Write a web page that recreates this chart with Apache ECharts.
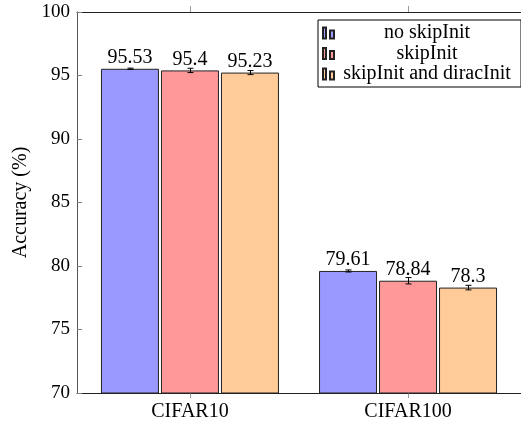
<!DOCTYPE html>
<html>
<head>
<meta charset="utf-8">
<script src="https://cdn.jsdelivr.net/npm/echarts@6/dist/echarts.min.js"></script>
<style>html,body{margin:0;padding:0;background:#fff}#c{width:521px;height:424px}</style>
</head>
<body>
<div id="c"></div>
<script>
const categories = ['CIFAR10', 'CIFAR100'];
const seriesNames = ['no skipInit', 'skipInit', 'skipInit and diracInit'];
const noSkipInit = [95.53, 79.61];
const noSkipInitErr = [0.05, 0.08];
const skipInit = [95.4, 78.84];
const skipInitErr = [0.17, 0.25];
const skipInitDirac = [95.23, 78.3];
const skipInitDiracErr = [0.16, 0.18];
const yTicks = [70, 75, 80, 85, 90, 95, 100];

const FONT = 'Liberation Serif';
const colors = ['#9999ff', '#ff9999', '#ffcc99'];
const values = [noSkipInit, skipInit, skipInitDirac];
const errs = [noSkipInitErr, skipInitErr, skipInitDiracErr];
const BAR_W = 58, BAR_PITCH = 60;

const serifRich = size => ({s: {fontFamily: FONT, fontSize: size, color: '#000'}});

const chart = echarts.init(document.getElementById('c'), null, {renderer: 'canvas'});

const barSeries = seriesNames.map((name, si) => ({
  name: name,
  type: 'bar',
  xAxisIndex: 0,
  barWidth: BAR_W,
  barGap: ((BAR_PITCH - BAR_W) / BAR_W * 100).toFixed(2) + '%',
  data: categories.map((c, ci) => [ci, values[si][ci]]),
  itemStyle: {color: colors[si], borderColor: '#222', borderWidth: 1},
  label: {
    show: true, position: 'top', distance: 1,
    fontFamily: FONT, fontSize: 20, color: '#000',
    formatter: p => '{s|' + String(p.value[1]) + '}',
    rich: serifRich(20)
  },
  z: 2
}));

const errData = [];
seriesNames.forEach((n, si) => categories.forEach((c, ci) => errData.push([ci, values[si][ci], errs[si][ci], si])));

const errSeries = {
  type: 'custom',
  xAxisIndex: 0,
  z: 5,
  silent: true,
  data: errData,
  renderItem: function (params, api) {
    const x = api.value(0), v = api.value(1), e = api.value(2), si = api.value(3);
    const off = (si - 1) * BAR_PITCH;
    const top = api.coord([x, v + e]);
    const bot = api.coord([x, v - e]);
    const cx = Math.round(top[0] + off) + 0.5;
    const cap = 3;
    const st = {stroke: '#000', lineWidth: 1};
    return {
      type: 'group',
      children: [
        {type: 'line', shape: {x1: cx, y1: top[1], x2: cx, y2: bot[1]}, style: st},
        {type: 'line', shape: {x1: cx - cap, y1: top[1], x2: cx + cap, y2: top[1]}, style: st},
        {type: 'line', shape: {x1: cx - cap, y1: bot[1], x2: cx + cap, y2: bot[1]}, style: st}
      ]
    };
  }
};

const option = {
  animation: false,
  backgroundColor: '#fff',
  textStyle: {fontFamily: FONT},
  grid: {left: 77, top: 12, width: 452, height: 381, containLabel: false},
  legend: {
    orient: 'vertical',
    left: 318, top: 20,
    padding: [3, 6, 3, 4],
    backgroundColor: '#fff',
    borderColor: '#000', borderWidth: 1, borderRadius: 0,
    itemWidth: 11, itemHeight: 11, itemGap: 0.5,
    icon: 'path://M0,0L3,0L3,11L0,11Z M7,3L11,3L11,11L7,11Z',
    data: seriesNames,
    formatter: name => '{t|' + name + '}',
    textStyle: {
      fontFamily: FONT, fontSize: 20, color: '#000',
      rich: {t: {width: 176, align: 'center', fontFamily: FONT, fontSize: 20, lineHeight: 21, color: '#000'}}
    }
  },
  xAxis: [{
    type: 'value', position: 'bottom',
    min: -0.518, max: 1.518,
    splitLine: {show: false},
    axisLine: {show: true, onZero: false, lineStyle: {color: '#222', width: 1}},
    axisTick: {show: true, customValues: [0, 1], length: 5, lineStyle: {color: '#999'}},
    axisLabel: {
      show: true, customValues: [0, 1], margin: 9,
      fontFamily: FONT, fontSize: 20, color: '#000',
      formatter: v => '{s|' + (categories[Math.round(v)] || '') + '}',
      rich: serifRich(20)
    }
  }, {
    type: 'value', position: 'top',
    min: -0.518, max: 1.518,
    splitLine: {show: false},
    axisLine: {show: true, onZero: false, lineStyle: {color: '#222', width: 1}},
    axisTick: {show: true, customValues: [0, 1], length: 6, lineStyle: {color: '#999'}},
    axisLabel: {show: false}
  }],
  yAxis: {
    type: 'value', min: 70, max: 100, interval: 5,
    name: '{s|Accuracy (%)}', nameLocation: 'middle', nameRotate: 90, nameGap: 46,
    nameTextStyle: {fontFamily: FONT, fontSize: 20, color: '#000', rich: serifRich(20)},
    splitLine: {show: false},
    axisLine: {show: true, onZero: false, lineStyle: {color: '#555', width: 1}},
    axisTick: {show: true, inside: true, length: 5, lineStyle: {color: '#808080'}},
    axisLabel: {
      margin: 7, fontFamily: FONT, fontSize: 19, color: '#000',
      customValues: yTicks,
      formatter: v => '{s|' + v + '}',
      rich: serifRich(19)
    }
  },
  series: barSeries.concat([errSeries])
};
chart.setOption(option);
</script>
</body>
</html>
